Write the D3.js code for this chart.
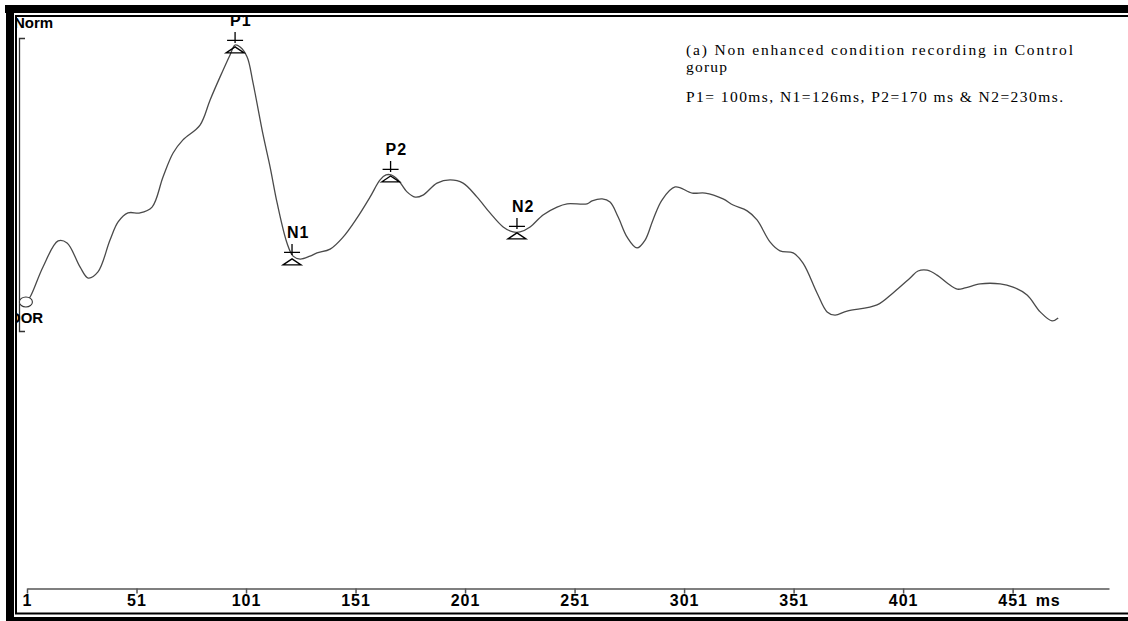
<!DOCTYPE html>
<html>
<head>
<meta charset="utf-8">
<script src="https://cdn.jsdelivr.net/npm/d3@7"></script>
<style>
  html, body { margin: 0; padding: 0; background: #fff; }
  svg { display: block; }
</style>
</head>
<body>
<svg id="chart" width="1128" height="621"></svg>
<script>
// Averaged waveform: latency (ms) and amplitude (arbitrary units)
const timeMs = [0.5, 2.4, 8.3, 15.2, 19.3, 25.2, 28.9, 33.4, 38.9, 42.6, 47.1, 52.6, 58.1, 63.1, 67.7, 72.2,
  80.0, 84.6, 89.1, 93.7, 96.0, 98.3, 101.5, 104.2, 108.8, 112.0, 115.2, 119.7, 122.5, 125.7, 130.2, 133.4,
  139.4, 145.3, 151.7, 157.6, 162.2, 164.9, 167.2, 170.4, 174.5, 178.2, 181.8, 188.2, 194.2, 200.1, 206.5,
  212.4, 218.4, 222.9, 226.1, 230.7, 236.6, 243.0, 247.6, 256.7, 259.0, 263.6, 267.2, 270.9, 275.0, 279.5,
  283.2, 286.8, 290.9, 296.9, 304.7, 310.6, 318.8, 323.4, 329.8, 334.3, 340.3, 344.8, 350.8, 355.3, 361.7,
  366.3, 369.9, 375.4, 389.1, 396.4, 404.2, 407.8, 412.0, 416.5, 421.1, 425.7, 429.3, 436.2, 445.3, 451.2,
  457.6, 463.6, 469.0, 471.8];
const amplitude = [-0.04, 0.13, 1.16, 2.05, 1.98, 1.16, 0.78, 0.99, 2.08, 2.70, 3.01, 3.01, 3.21, 4.24, 5.06, 5.51,
  6.02, 6.88, 7.66, 8.42, 8.76, 8.69, 8.35, 7.46, 5.68, 4.58, 3.35, 1.98, 1.53, 1.43, 1.53, 1.64,
  1.77, 2.18, 2.84, 3.55, 4.14, 4.31, 4.31, 4.14, 3.73, 3.55, 3.62, 4.03, 4.14, 4.03, 3.55,
  3.01, 2.53, 2.36, 2.36, 2.53, 2.94, 3.21, 3.32, 3.32, 3.42, 3.49, 3.38, 2.87, 2.18, 1.81,
  2.08, 2.77, 3.45, 3.90, 3.69, 3.69, 3.49, 3.28, 3.08, 2.77, 2.01, 1.71, 1.64, 1.29, 0.27,
  -0.38, -0.49, -0.35, -0.14, 0.27, 0.78, 1.02, 1.05, 0.88, 0.61, 0.40, 0.44, 0.58, 0.58,
  0.47, 0.20, -0.38, -0.69, -0.59];

// Marked components
const peakNames = ["P1", "N1", "P2", "N2"];
const peakMs = [96.0, 122.0, 167.0, 224.7];
const peakAmp = [8.73, 1.47, 4.31, 2.36];

// Time axis
const tickValues = [1, 51, 101, 151, 201, 251, 301, 351, 401, 451];
const axisUnit = "ms";

// Side labels and notes
const topLabel = "Norm";
const baseLabel = "OOR";
const noteLines = [
  "(a) Non enhanced condition recording in Control",
  "gorup",
  "P1= 100ms, N1=126ms, P2=170 ms & N2=230ms."
];

const W = 1128, H = 621;
const svg = d3.select("#chart");

const x = d3.scaleLinear().domain([1, 495]).range([27, 1109]);
const y = d3.scaleLinear().domain([-1, 9]).range([330, 38]);

svg.append("rect").attr("width", W).attr("height", H).attr("fill", "#fff");

// clip everything to the inner panel
svg.append("defs").append("clipPath").attr("id", "panel")
  .append("rect").attr("x", 17).attr("y", 17).attr("width", W - 17).attr("height", 596);

const plot = svg.append("g").attr("clip-path", "url(#panel)");

const sans = "'Liberation Sans', Arial, sans-serif";

// time axis
const axis = plot.append("g")
  .attr("transform", "translate(0,588.5)")
  .call(d3.axisBottom(x).tickValues(tickValues).tickSize(5).tickSizeOuter(0).tickPadding(1)
    .tickFormat(d3.format("d")));
axis.select(".domain").attr("stroke", "#555").attr("stroke-width", 1.5);
axis.selectAll(".tick line").attr("stroke", "#555").attr("stroke-width", 1.5);
axis.selectAll(".tick text")
  .attr("fill", "#000")
  .style("font-family", sans)
  .style("font-weight", "bold")
  .style("font-size", "16px")
  .style("letter-spacing", "1px");
plot.append("text")
  .attr("x", x(451) + 23).attr("y", 588.5 + 17)
  .style("font-family", sans)
  .style("font-weight", "bold").style("font-size", "16px").style("letter-spacing", "1px")
  .text(axisUnit);

// amplitude bracket on the left
plot.append("path")
  .attr("d", `M25,${y(9) + 0.5}H19.5V${y(-1) + 1.5}H25`)
  .attr("fill", "none").attr("stroke", "#333").attr("stroke-width", 1.3);

plot.append("text")
  .attr("x", 14).attr("y", 28)
  .style("font-family", sans)
  .style("font-weight", "bold").style("font-size", "15px")
  .text(topLabel);
plot.append("text")
  .attr("x", 9).attr("y", 323)
  .style("font-family", sans)
  .style("font-weight", "bold").style("font-size", "15px")
  .text(baseLabel);

// waveform
const pts = timeMs.map((t, i) => [t, amplitude[i]]);
plot.append("path")
  .datum(pts)
  .attr("d", d3.line().x(d => x(d[0])).y(d => y(d[1])).curve(d3.curveCatmullRom.alpha(0.5)))
  .attr("fill", "none").attr("stroke", "#4a4a4a").attr("stroke-width", 1.3);

// start marker
plot.append("ellipse")
  .attr("cx", x(timeMs[0])).attr("cy", y(amplitude[0]))
  .attr("rx", 6.5).attr("ry", 5)
  .attr("fill", "#fff").attr("stroke", "#333").attr("stroke-width", 1.1);

// peak markers: cursor above, triangle below
const pk = plot.selectAll("g.peak").data(peakNames).enter().append("g").attr("class", "peak")
  .attr("transform", (d, i) => `translate(${x(peakMs[i])},${y(peakAmp[i])})`);
pk.append("path")
  .attr("d", "M0,-14V-3M-8,-5.5H8")
  .attr("stroke", "#000").attr("stroke-width", 1.3).attr("fill", "none");
pk.append("path")
  .attr("d", "M-9,7L0,1L9,7Z")
  .attr("stroke", "#000").attr("stroke-width", 1.3).attr("fill", "none");
pk.append("text")
  .attr("x", -5).attr("y", -20)
  .style("font-family", sans)
  .style("font-weight", "bold").style("font-size", "16px").style("letter-spacing", "1px")
  .text(d => d);

// notes
const noteY = [55, 72, 102];
const noteLen = [387, null, 377];
plot.selectAll("text.note").data(noteLines).enter().append("text")
  .attr("class", "note")
  .attr("x", 686).attr("y", (d, i) => noteY[i])
  .attr("textLength", (d, i) => noteLen[i])
  .attr("lengthAdjust", "spacing")
  .style("font-family", "'Liberation Serif', 'Times New Roman', serif")
  .style("font-size", "15.5px")
  .style("letter-spacing", (d, i) => noteLen[i] ? null : "1.2px")
  .text(d => d);

// double frame
const frame = svg.append("g");
frame.append("rect").attr("x", 5).attr("y", 5).attr("width", W - 5).attr("height", 8).attr("fill", "#000");
frame.append("rect").attr("x", 6).attr("y", 5).attr("width", 8).attr("height", H - 5).attr("fill", "#000");
frame.append("rect").attr("x", 6).attr("y", 617).attr("width", W - 6).attr("height", 4).attr("fill", "#000");
frame.append("path")
  .attr("d", `M${W},16H16V613.5H${W}`)
  .attr("fill", "none").attr("stroke", "#000").attr("stroke-width", 2);
</script>
</body>
</html>
